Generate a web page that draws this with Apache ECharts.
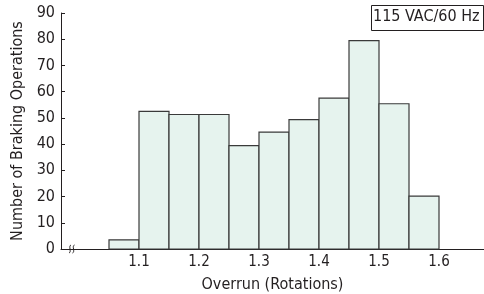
<!DOCTYPE html>
<html>
<head>
<meta charset="utf-8">
<script src="https://cdn.jsdelivr.net/npm/echarts@6/dist/echarts.min.js"></script>
<style>
  html, body { margin: 0; padding: 0; background: #fff; }
  #chart { width: 484px; height: 294px; }
</style>
</head>
<body>
<div id="chart"></div>
<script>
// histogram bins (left edges), bin width and counts
var binStarts = [1.05, 1.10, 1.15, 1.20, 1.25, 1.30, 1.35, 1.40, 1.45, 1.50, 1.55]
var binWidth = 0.05
var counts = [3.5, 52.5, 51.3, 51.3, 39.4, 44.6, 49.3, 57.5, 79.5, 55.4, 20.2]
var xTicks = [1.1, 1.2, 1.3, 1.4, 1.5, 1.6]
var yTicks = [0, 10, 20, 30, 40, 50, 60, 70, 80, 90]

var font = '"DejaVu Sans Condensed", sans-serif'
var ink = '#231f20'

var data = binStarts.map(function (s, i) { return [s, s + binWidth, counts[i]] })

// axis break mark ("ʃʃ") drawn as two small s-curves
function breakCurve(x) {
  return {
    type: 'bezierCurve',
    shape: { x1: x, y1: 253, cpx1: x + 3, cpy1: 252, cpx2: x - 1, cpy2: 246, x2: x + 2, y2: 245 },
    style: { stroke: ink, lineWidth: 1, fill: null }
  }
}

var chart = echarts.init(document.getElementById('chart'))
chart.setOption({
  animation: false,
  grid: { left: 61, right: 0, top: 13, bottom: 45, outerBoundsMode: 'none' },
  xAxis: {
    type: 'value',
    min: 0.97,
    max: 1.675,
    name: 'Overrun (Rotations)',
    nameLocation: 'middle',
    nameGap: 28,
    nameTextStyle: { fontFamily: font, fontSize: 16, color: ink },
    axisLine: { lineStyle: { color: ink, width: 1 } },
    axisTick: { show: false },
    splitLine: { show: false },
    axisLabel: {
      customValues: xTicks,
      fontFamily: font, fontSize: 15, color: ink, margin: 6,
      formatter: function (v) { return v.toFixed(1) }
    }
  },
  yAxis: {
    type: 'value',
    min: 0,
    max: 90,
    interval: 10,
    name: 'Number of Braking Operations',
    nameLocation: 'middle',
    nameGap: 30,
    nameTextStyle: { fontFamily: font, fontSize: 16, color: ink },
    axisLine: { show: true, lineStyle: { color: ink, width: 1 } },
    axisTick: { show: true, inside: true, length: 4, lineStyle: { color: ink } },
    splitLine: { show: false },
    axisLabel: {
      fontFamily: font, fontSize: 16, color: ink, margin: 6,
      formatter: function (v) { return yTicks.indexOf(v) >= 0 ? String(v) : '' }
    }
  },
  series: [{
    type: 'custom',
    data: data,
    encode: { x: [0, 1], y: 2 },
    renderItem: function (params, api) {
      var p0 = api.coord([api.value(0), api.value(2)])
      var p1 = api.coord([api.value(1), 0])
      return {
        type: 'rect',
        shape: { x: p0[0], y: p0[1], width: p1[0] - p0[0], height: p1[1] - p0[1] },
        style: { fill: '#e6f3ee', stroke: '#3a3a3a', lineWidth: 1.2 }
      }
    }
  }],
  graphic: [
    {
      type: 'rect',
      left: 371, top: 5,
      shape: { width: 112, height: 25 },
      style: { fill: '#fff', stroke: ink, lineWidth: 1 }
    },
    {
      type: 'text',
      left: 373, top: 9,
      style: { text: '115 VAC/60 Hz', font: '16px ' + font, fill: ink }
    },
    {
      type: 'rect',
      shape: { x: 68, y: 246, width: 8, height: 6 },
      style: { fill: '#fff' }
    },
    breakCurve(69),
    breakCurve(72.5)
  ]
})
</script>
</body>
</html>
